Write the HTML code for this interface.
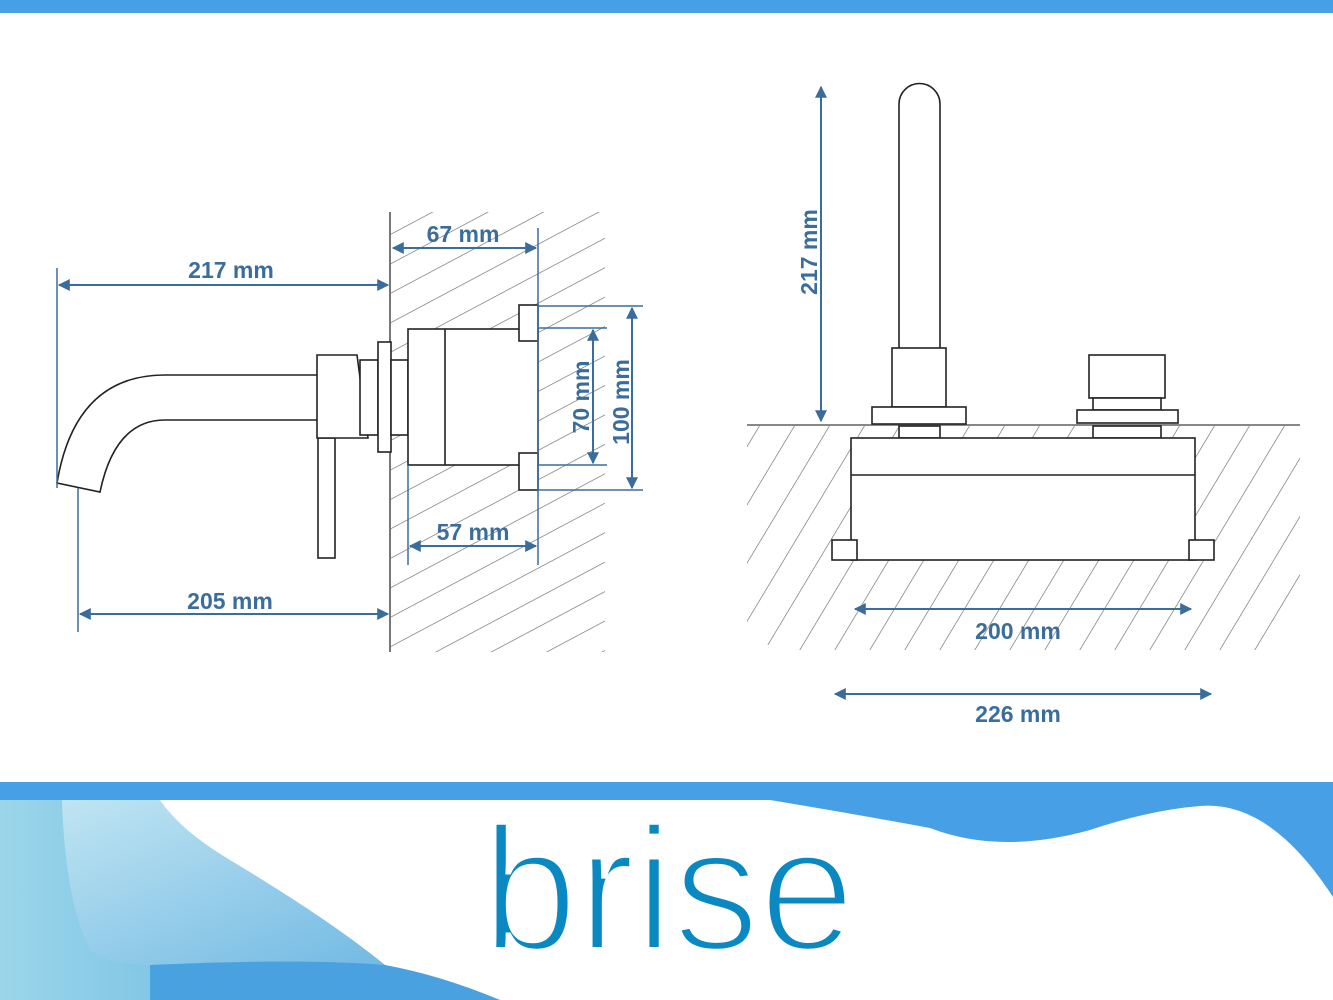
<!DOCTYPE html>
<html><head><meta charset="utf-8"><style>
html,body{margin:0;padding:0;background:#fff;}
svg{display:block;font-family:"Liberation Sans",sans-serif;}
.d{fill:#3b6d9c;font-weight:bold;font-size:23px;}
</style></head><body>
<svg width="1333" height="1000" viewBox="0 0 1333 1000" xmlns="http://www.w3.org/2000/svg">
<defs>
<pattern id="h" patternUnits="userSpaceOnUse" width="26" height="26" patternTransform="rotate(-28)">
<line x1="0" y1="0" x2="26" y2="0" stroke="#666" stroke-width="1.3"/>
</pattern>
<pattern id="h2" patternUnits="userSpaceOnUse" width="30" height="30" patternTransform="rotate(-59)">
<line x1="0" y1="0" x2="30" y2="0" stroke="#666" stroke-width="1.3"/>
</pattern>
<marker id="a" viewBox="0 0 10 10" refX="9" refY="5" markerWidth="9" markerHeight="6" orient="auto-start-reverse" markerUnits="strokeWidth">
<path d="M0,0 L10,5 L0,10 Z" fill="#3b6d9c"/>
</marker>
<linearGradient id="g1" x1="0" y1="0" x2="1" y2="0">
<stop offset="0" stop-color="#9bd6ea"/><stop offset="1" stop-color="#4aa3dc"/>
</linearGradient>
<linearGradient id="g2" x1="0" y1="0" x2="1" y2="1">
<stop offset="0" stop-color="#c6e8f3"/><stop offset="1" stop-color="#5eaee0"/>
</linearGradient>
</defs>
<rect x="0" y="0" width="1333" height="13" fill="#47a0e5"/>

<!-- LEFT: wall hatch -->
<rect x="391" y="212" width="214" height="440" fill="url(#h)"/>
<rect x="408" y="329" width="130" height="136" fill="#fff"/>
<line x1="390" y1="212" x2="390" y2="652" stroke="#777" stroke-width="2"/>
<g fill="#fff" stroke="#222" stroke-width="1.6">
<path d="M317,375 L165,375 Q75,375 57,483 L100,492 Q115,420 165,420 L317,420"/>
<rect x="318" y="438" width="17" height="120"/>
<path d="M317,355 L357,355 L368,438 L317,438 Z"/>
<rect x="360" y="360" width="18" height="75"/>
<rect x="378" y="342" width="13" height="110"/>
<rect x="391" y="360" width="17" height="75"/>
<rect x="408" y="329" width="130" height="136"/>
<line x1="445" y1="329" x2="445" y2="465"/>
<rect x="519" y="305" width="19" height="36"/>
<rect x="519" y="453" width="19" height="37"/>
</g>
<g stroke="#3b6d9c" stroke-width="2" fill="none">
<line x1="57" y1="268" x2="57" y2="488" stroke-width="1.5"/>
<line x1="78" y1="488" x2="78" y2="632" stroke-width="1.5"/>
<line x1="59" y1="285" x2="388" y2="285" marker-start="url(#a)" marker-end="url(#a)"/>
<line x1="80" y1="614" x2="388" y2="614" marker-start="url(#a)" marker-end="url(#a)"/>
<line x1="538" y1="228" x2="538" y2="565" stroke-width="1.5"/>
<line x1="408" y1="465" x2="408" y2="565" stroke-width="1.5"/>
<line x1="393" y1="248" x2="536" y2="248" marker-start="url(#a)" marker-end="url(#a)"/>
<line x1="410" y1="546" x2="536" y2="546" marker-start="url(#a)" marker-end="url(#a)"/>
<line x1="538" y1="306" x2="643" y2="306" stroke-width="1.5"/>
<line x1="538" y1="490" x2="643" y2="490" stroke-width="1.5"/>
<line x1="538" y1="328" x2="607" y2="328" stroke-width="1.5"/>
<line x1="538" y1="465" x2="607" y2="465" stroke-width="1.5"/>
<line x1="632" y1="308" x2="632" y2="488" marker-start="url(#a)" marker-end="url(#a)"/>
<line x1="593" y1="330" x2="593" y2="463" marker-start="url(#a)" marker-end="url(#a)"/>
</g>
<text class="d" x="231" y="278" text-anchor="middle">217 mm</text>
<text class="d" x="230" y="609" text-anchor="middle">205 mm</text>
<text class="d" x="463" y="242" text-anchor="middle">67 mm</text>
<text class="d" x="473" y="540" text-anchor="middle">57 mm</text>
<text class="d" x="0" y="0" text-anchor="middle" transform="translate(589,397) rotate(-90)">70 mm</text>
<text class="d" x="0" y="0" text-anchor="middle" transform="translate(629,402) rotate(-90)">100 mm</text>

<!-- RIGHT -->
<path d="M747,426 L1300,426 L1300,600 L1270,650 L790,650 L747,640 Z" fill="url(#h2)"/>
<line x1="747" y1="425" x2="1300" y2="425" stroke="#888" stroke-width="2"/>
<g fill="#fff" stroke="#222" stroke-width="1.6">
<path d="M899,348 L899,104 A20.5,20.5 0 0 1 940,104 L940,348"/>
<rect x="892" y="348" width="54" height="59"/>
<rect x="872" y="407" width="94" height="17"/>
<rect x="899" y="426" width="41" height="12"/>
<rect x="1089" y="355" width="76" height="43"/>
<rect x="1093" y="398" width="68" height="12"/>
<rect x="1077" y="410" width="101" height="13"/>
<rect x="1093" y="426" width="68" height="12"/>
<rect x="851" y="438" width="344" height="122"/>
<line x1="851" y1="475" x2="1195" y2="475"/>
<rect x="832" y="540" width="25" height="20"/>
<rect x="1189" y="540" width="25" height="20"/>
</g>
<g stroke="#3b6d9c" stroke-width="2" fill="none">
<line x1="821" y1="87" x2="821" y2="421" marker-start="url(#a)" marker-end="url(#a)"/>
<line x1="855" y1="609" x2="1191" y2="609" marker-start="url(#a)" marker-end="url(#a)"/>
<line x1="835" y1="694" x2="1211" y2="694" marker-start="url(#a)" marker-end="url(#a)"/>
</g>
<text class="d" x="0" y="0" text-anchor="middle" transform="translate(817,252) rotate(-90)">217 mm</text>
<text class="d" x="1018" y="639" text-anchor="middle">200 mm</text>
<text class="d" x="1018" y="722" text-anchor="middle">226 mm</text>

<!-- footer -->
<rect x="0" y="782" width="1333" height="18" fill="#47a0e5"/>
<path d="M700,799 L1333,799 L1333,897 Q1270,800 1200,806 Q1150,810 1090,830 Q1000,855 930,828 Q860,815 770,800 Z" fill="#47a0e5"/>
<path d="M0,800 L160,800 Q180,830 230,860 Q330,920 385,965 L500,1000 L0,1000 Z" fill="url(#g2)"/>
<path d="M0,800 L62,800 Q65,900 90,950 Q110,965 150,965 Q170,970 385,965 L500,1000 L0,1000 Z" fill="url(#g1)"/>
<path d="M150,965 Q300,958 385,965 Q440,975 500,1000 L150,1000 Z" fill="#4aa1df"/>
<text x="482" y="950" font-size="177" fill="#0a88c2" stroke="#fff" stroke-width="6" paint-order="fill stroke" textLength="373" lengthAdjust="spacingAndGlyphs">brise</text>
</svg>
</body></html>
